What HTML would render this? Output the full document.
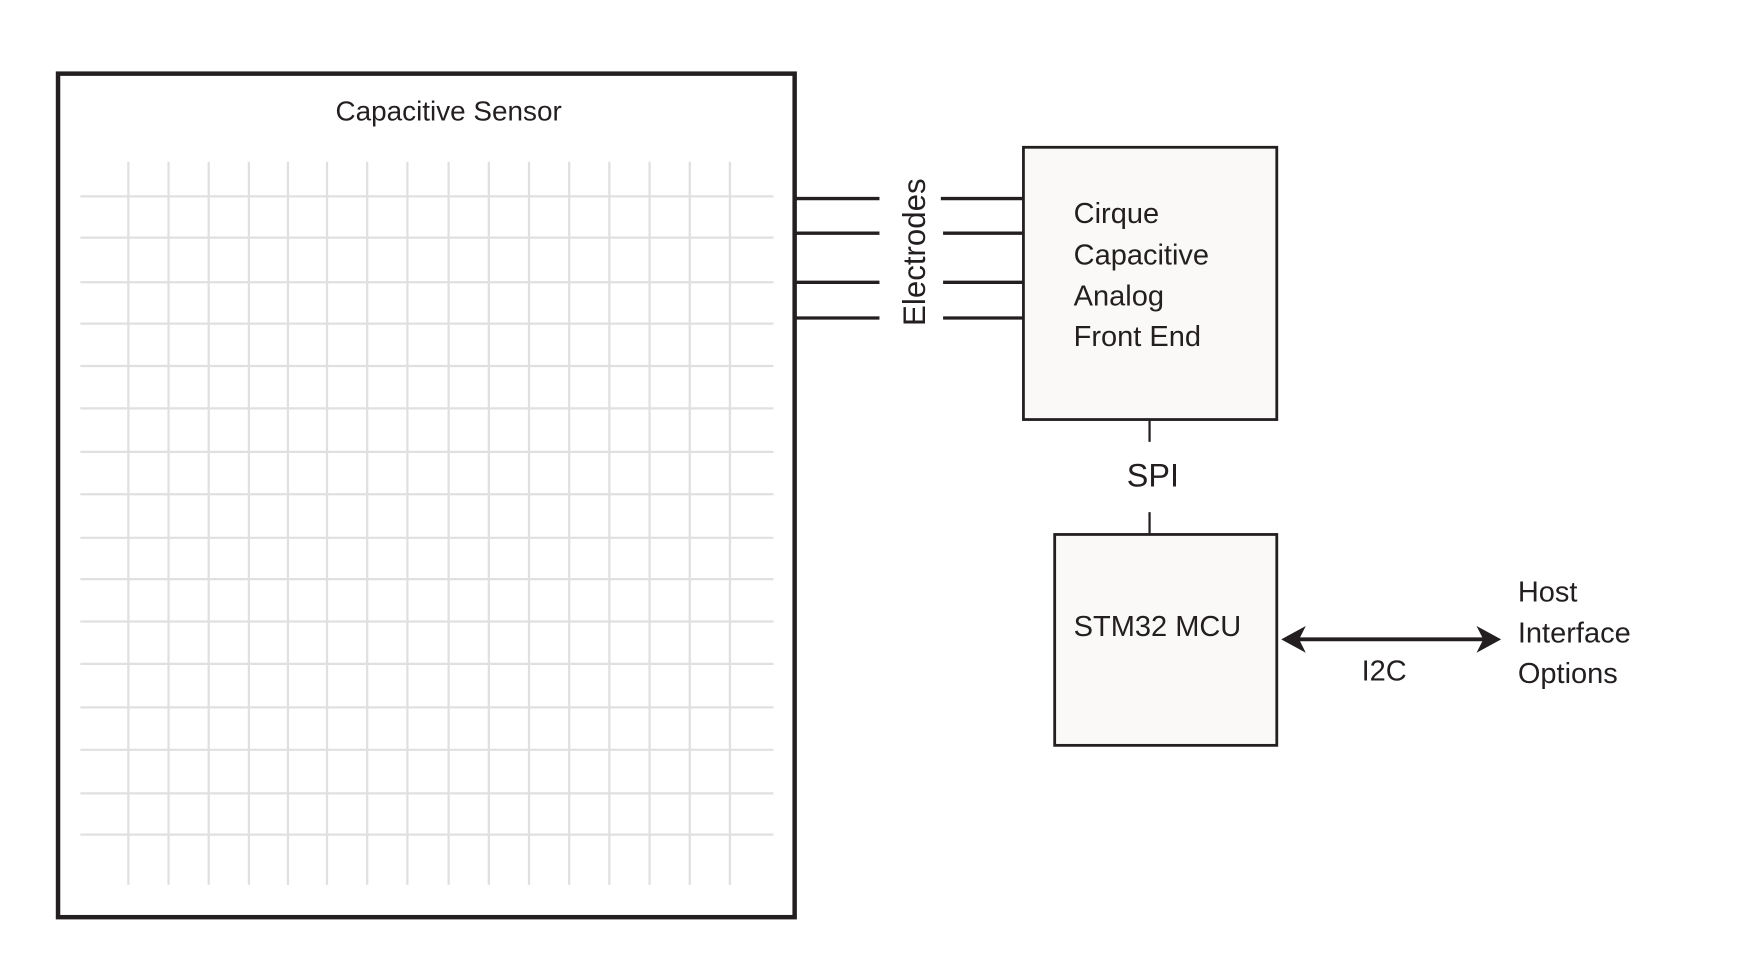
<!DOCTYPE html>
<html><head><style>html,body{margin:0;padding:0;background:#fff;}svg{display:block}</style></head>
<body>
<svg width="1750" height="954" viewBox="0 0 1568 855" preserveAspectRatio="none" xmlns="http://www.w3.org/2000/svg" font-family="Liberation Sans, sans-serif" fill="#231f20">
<g stroke="#e0e0e0" stroke-width="2">
<line x1="115" y1="145" x2="115" y2="793"/><line x1="151" y1="145" x2="151" y2="793"/><line x1="187" y1="145" x2="187" y2="793"/><line x1="223" y1="145" x2="223" y2="793"/><line x1="258" y1="145" x2="258" y2="793"/><line x1="293" y1="145" x2="293" y2="793"/><line x1="329" y1="145" x2="329" y2="793"/><line x1="365" y1="145" x2="365" y2="793"/><line x1="402" y1="145" x2="402" y2="793"/><line x1="438" y1="145" x2="438" y2="793"/><line x1="474" y1="145" x2="474" y2="793"/><line x1="510" y1="145" x2="510" y2="793"/><line x1="546" y1="145" x2="546" y2="793"/><line x1="582" y1="145" x2="582" y2="793"/><line x1="618" y1="145" x2="618" y2="793"/><line x1="654" y1="145" x2="654" y2="793"/>
<line x1="72" y1="176" x2="693" y2="176"/><line x1="72" y1="213" x2="693" y2="213"/><line x1="72" y1="253" x2="693" y2="253"/><line x1="72" y1="290" x2="693" y2="290"/><line x1="72" y1="328" x2="693" y2="328"/><line x1="72" y1="366" x2="693" y2="366"/><line x1="72" y1="405" x2="693" y2="405"/><line x1="72" y1="443" x2="693" y2="443"/><line x1="72" y1="482" x2="693" y2="482"/><line x1="72" y1="519" x2="693" y2="519"/><line x1="72" y1="557" x2="693" y2="557"/><line x1="72" y1="595" x2="693" y2="595"/><line x1="72" y1="634" x2="693" y2="634"/><line x1="72" y1="672" x2="693" y2="672"/><line x1="72" y1="711" x2="693" y2="711"/><line x1="72" y1="748" x2="693" y2="748"/>
</g>
<rect x="52" y="66" width="660" height="756" fill="none" stroke="#231f20" stroke-width="4"/>
<text x="402" y="108" font-size="25" text-anchor="middle">Capacitive Sensor</text>
<g stroke="#231f20" stroke-width="3">
<line x1="712" y1="178" x2="788" y2="178"/><line x1="843" y1="178" x2="918" y2="178"/>
<line x1="712" y1="209" x2="788" y2="209"/><line x1="845" y1="209" x2="920" y2="209"/>
<line x1="712" y1="253" x2="788" y2="253"/><line x1="845" y1="253" x2="920" y2="253"/>
<line x1="712" y1="285" x2="788" y2="285"/><line x1="845" y1="285" x2="920" y2="285"/>
</g>
<text transform="translate(829,226) rotate(-90)" font-size="28" text-anchor="middle">Electrodes</text>
<rect x="917" y="132" width="227" height="244" fill="#faf9f7" stroke="#231f20" stroke-width="2.5"/>
<g font-size="26"><text x="962" y="200">Cirque</text><text x="962" y="237">Capacitive</text><text x="962" y="274">Analog</text><text x="962" y="310">Front End</text></g>
<g stroke="#231f20" stroke-width="2"><line x1="1030" y1="377" x2="1030" y2="396"/><line x1="1030" y1="459" x2="1030" y2="478"/></g>
<text x="1033" y="436" font-size="29" text-anchor="middle">SPI</text>
<rect x="945" y="479" width="199" height="189" fill="#faf9f7" stroke="#231f20" stroke-width="2.5"/>
<text x="962" y="570" font-size="26">STM32 MCU</text>
<line x1="1160" y1="573" x2="1333" y2="573" stroke="#231f20" stroke-width="3.5"/>
<path d="M1148 573 L1170 561 L1164 573 L1170 585 Z"/>
<path d="M1345 573 L1323 561 L1329 573 L1323 585 Z"/>
<text x="1220" y="610" font-size="26">I2C</text>
<g font-size="26"><text x="1360" y="539">Host</text><text x="1360" y="576">Interface</text><text x="1360" y="612">Options</text></g>
</svg>
</body></html>
